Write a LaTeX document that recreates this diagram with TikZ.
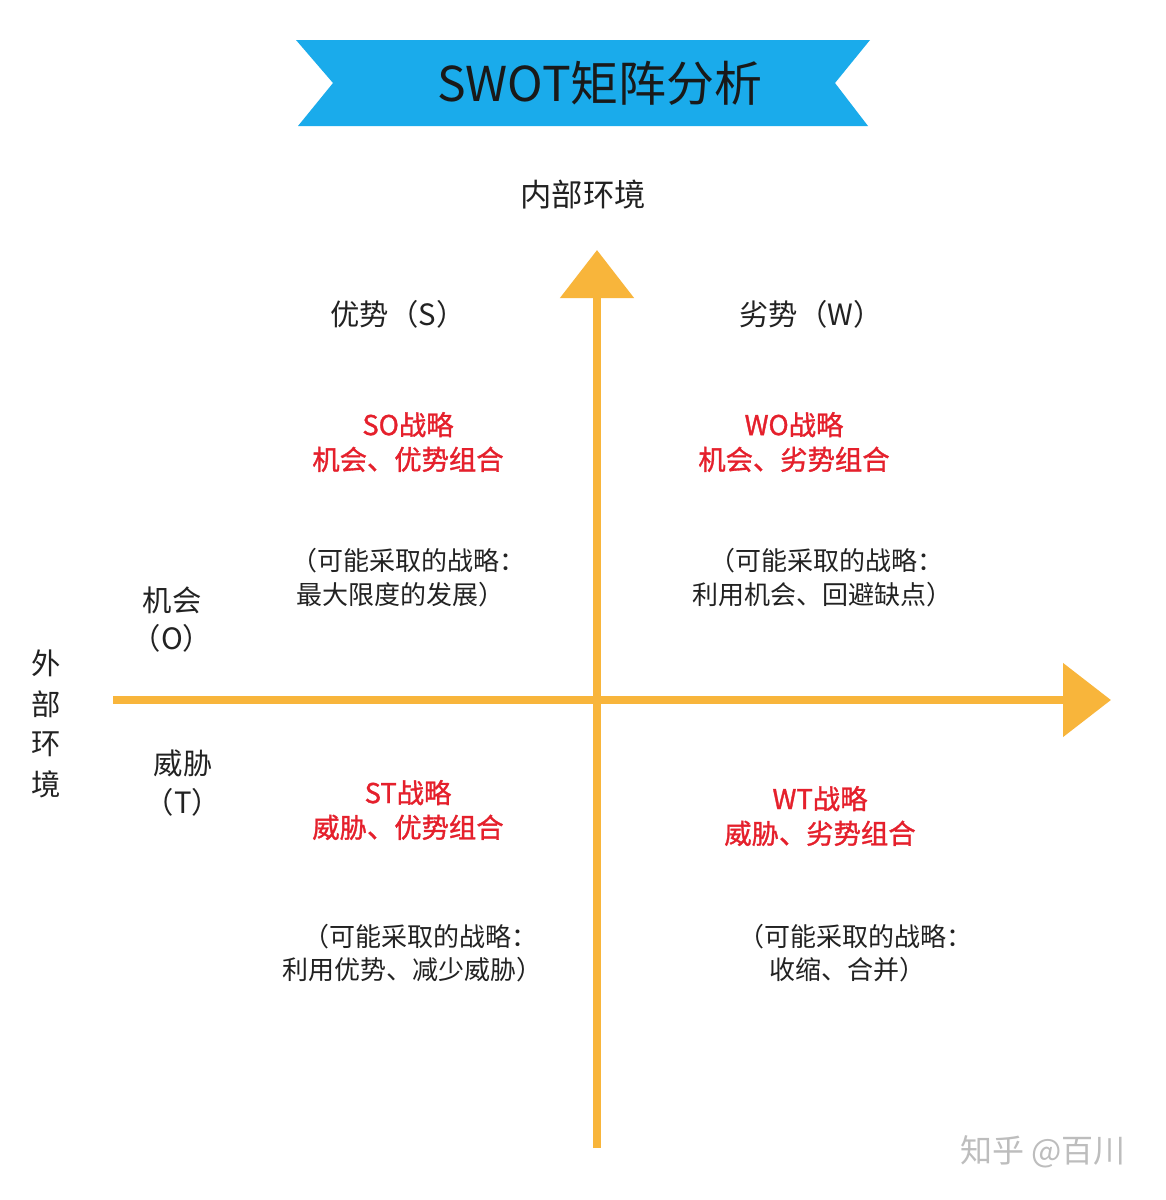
\documentclass[tikz,border=0pt]{standalone}
\usepackage{fontspec}
\setmainfont{Noto Sans CJK SC}
\newfontfamily\redfont[FakeBold=1.2]{Noto Sans CJK SC}
\usetikzlibrary{arrows.meta}
\definecolor{bannerblue}{HTML}{1AABEB}
\definecolor{axisorange}{HTML}{F8B53B}
\definecolor{stratred}{HTML}{E5202C}
\definecolor{txtdark}{HTML}{222222}
\definecolor{wmgray}{HTML}{BDBDBD}
\tikzset{
  lbl/.style={font=\fontsize{22}{24}\selectfont, text=txtdark, inner sep=0pt},
  strat/.style={font=\redfont\fontsize{20.5}{26}\selectfont, text=stratred, inner sep=0pt, align=center},
  note/.style={font=\fontsize{19.5}{25}\selectfont, text=txtdark, inner sep=0pt},
  axisline/.style={draw=axisorange, line width=6.5pt, -{Triangle[length=36pt,width=54pt]}},
}
\begin{document}
\begin{tikzpicture}[x=0.75pt,y=-0.75pt]
\useasboundingbox (0,0) rectangle (1165,1200);
\fill[white] (0,0) rectangle (1165,1200);
% banner
\fill[bannerblue] (296,40) -- (870,40) -- (835,83) -- (868,126) -- (298,126) -- (333,83) -- cycle;
\node[font=\fontsize{36}{40}\selectfont, text=black!90, inner sep=0pt] (title) at (600,83) {SWOT矩阵分析};
% axes
\coordinate (vbot) at (597,1148);
\coordinate (vtop) at (597,250);
\coordinate (hleft) at (113,700);
\coordinate (hright) at (1111,700);
\draw[axisline] (vbot) -- (vtop);
\draw[axisline] (hleft) -- (hright);
% axis labels
\node[font=\fontsize{23.5}{28}\selectfont, text=txtdark, inner sep=0pt] (inner) at (583,195) {内部环境};
\node[lbl] (s) at (398,314) {优势（S）};
\node[lbl] (w) at (811,314) {劣势（W）};
\node[lbl] (o1) at (172,600) {机会};
\node[lbl] (o2) at (172,638) {（O）};
\node[lbl] (t1) at (183,763) {威胁};
\node[lbl] (t2) at (183,802) {（T）};
\node[lbl] (ext1) at (46,663) {外};
\node[lbl] (ext2) at (46,704) {部};
\node[lbl] (ext3) at (46,744) {环};
\node[lbl] (ext4) at (46,784) {境};
% strategies
\node[strat] (so) at (408,442) {SO战略\\机会、优势组合};
\node[strat] (wo) at (794,442) {WO战略\\机会、劣势组合};
\node[strat] (st) at (408,810) {ST战略\\威胁、优势组合};
\node[strat] (wt) at (820,816) {WT战略\\威胁、劣势组合};
% notes
\node[note] (son1) at (408,561) {（可能采取的战略：};
\node[note] (son2) at (400,595) {最大限度的发展）};
\node[note] (won1) at (826,561) {（可能采取的战略：};
\node[note] (won2) at (822,595) {利用机会、回避缺点）};
\node[note] (stn1) at (420,937) {（可能采取的战略：};
\node[note] (stn2) at (412,970) {利用优势、减少威胁）};
\node[note] (wtn1) at (855,937) {（可能采取的战略：};
\node[note] (wtn2) at (847,970) {收缩、合并）};
% watermark
\node[font=\fontsize{24}{28}\selectfont, text=wmgray, inner sep=0pt] (wm) at (1043,1152) {知乎 @百川};
\end{tikzpicture}
\end{document}
